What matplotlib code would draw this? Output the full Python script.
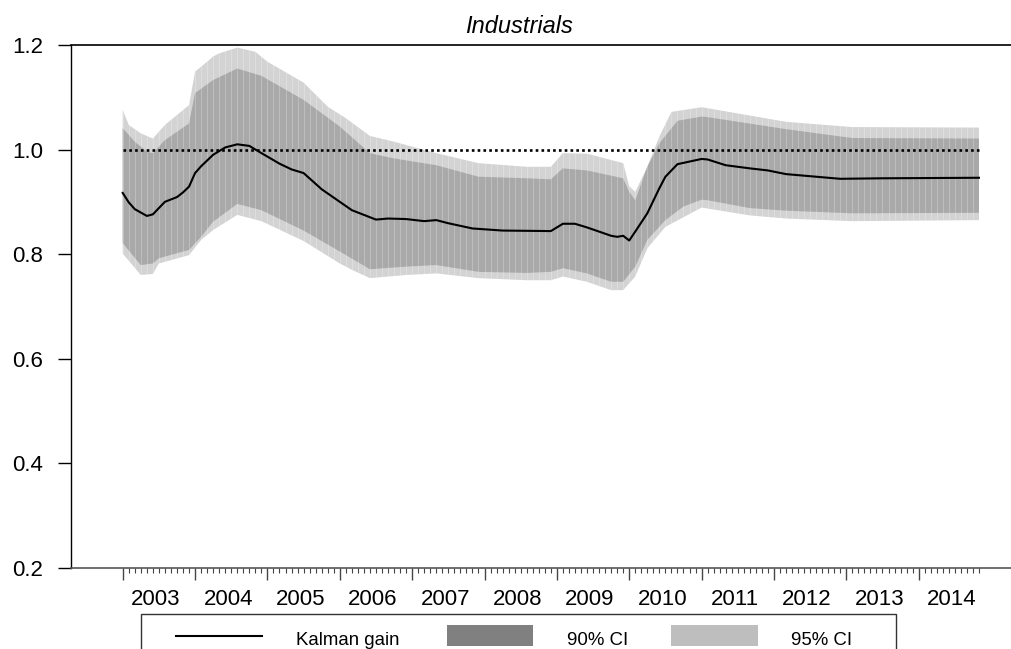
import numpy as np
import matplotlib
matplotlib.use("Agg")
import matplotlib.pyplot as plt
from matplotlib.patches import Rectangle
from matplotlib.lines import Line2D

plt.rcParams["font.family"] = ["Liberation Sans", "DejaVu Sans"]

# Month index 0 = Jan 2003, 142 = Nov 2014
n_months = 143
years = list(range(2003, 2015))

gain_month = [0, 1, 2, 4, 5, 6, 7, 9, 10, 11, 12, 13, 15, 17, 19, 21, 22, 26, 28, 30,
              33, 38, 42, 44, 47, 50, 52, 54, 58, 63, 71, 73, 75, 77, 81, 82, 83, 84,
              85, 87, 89, 90, 92, 96, 97, 100, 104, 107, 110, 115, 119, 126, 142]
gain_value = [0.917, 0.899, 0.886, 0.873, 0.876, 0.888, 0.900, 0.909, 0.918, 0.929,
              0.955, 0.968, 0.990, 1.004, 1.010, 1.007, 1.000, 0.973, 0.962, 0.955,
              0.924, 0.884, 0.866, 0.868, 0.867, 0.863, 0.865, 0.859, 0.849, 0.845,
              0.844, 0.858, 0.858, 0.851, 0.835, 0.833, 0.835, 0.826, 0.843, 0.878,
              0.926, 0.948, 0.972, 0.982, 0.981, 0.970, 0.964, 0.960, 0.953, 0.948,
              0.944, 0.945, 0.946]

up90_month = [0, 2, 4, 5, 7, 11, 12, 15, 19, 23, 30, 36, 41, 45, 52, 59, 67, 71, 73,
              77, 83, 84, 85, 87, 89, 92, 96, 97, 110, 121, 142]
up90_value = [1.041, 1.015, 0.996, 0.993, 1.018, 1.050, 1.108, 1.133, 1.155, 1.141,
              1.095, 1.044, 0.993, 0.983, 0.970, 0.948, 0.945, 0.943, 0.964, 0.960,
              0.945, 0.919, 0.903, 0.967, 1.012, 1.055, 1.063, 1.062, 1.039, 1.022, 1.021]

lo90_month = [0, 3, 5, 6, 11, 13, 15, 19, 23, 30, 36, 41, 47, 52, 59, 67, 71, 73, 77,
              81, 83, 85, 87, 90, 93, 96, 97, 104, 110, 121, 142]
lo90_value = [0.821, 0.779, 0.782, 0.792, 0.808, 0.833, 0.862, 0.896, 0.884, 0.845,
              0.805, 0.771, 0.776, 0.779, 0.766, 0.764, 0.766, 0.773, 0.763, 0.747,
              0.747, 0.776, 0.827, 0.865, 0.891, 0.904, 0.903, 0.888, 0.883, 0.878, 0.879]

up95_month = [0, 1, 3, 5, 7, 9, 11, 12, 14, 15, 16, 19, 22, 24, 30, 34, 37, 41, 45,
              52, 59, 67, 71, 73, 77, 83, 84, 85, 87, 89, 91, 96, 110, 121, 142]
up95_value = [1.076, 1.047, 1.031, 1.021, 1.047, 1.066, 1.085, 1.149, 1.168, 1.178,
              1.184, 1.195, 1.187, 1.168, 1.128, 1.082, 1.060, 1.026, 1.015, 0.993,
              0.974, 0.967, 0.967, 0.993, 0.992, 0.974, 0.930, 0.919, 0.967, 1.025,
              1.072, 1.081, 1.053, 1.043, 1.042]

lo95_month = [0, 3, 5, 6, 11, 13, 15, 19, 23, 30, 36, 38, 41, 47, 52, 59, 67, 71, 73,
              77, 81, 83, 85, 87, 90, 96, 104, 110, 121, 142]
lo95_value = [0.801, 0.760, 0.762, 0.782, 0.798, 0.827, 0.846, 0.875, 0.863, 0.825,
              0.782, 0.770, 0.754, 0.760, 0.763, 0.754, 0.750, 0.750, 0.757, 0.747,
              0.731, 0.731, 0.757, 0.811, 0.852, 0.889, 0.874, 0.868, 0.863, 0.865]

W, H = 1012, 649
fig = plt.figure(figsize=(W / 100, H / 100), dpi=100)

# plot region in pixels: left 71, top 45, bottom 567.7, runs off the right edge
ax = fig.add_axes([71 / W, (H - 567.7) / H, 1 - 71 / W, (567.7 - 45) / H])
px_per_month = 6.03
x0 = -(122.7 - 71) / px_per_month
ax.set_xlim(x0, x0 + (W - 71) / px_per_month)
ax.set_ylim(0.2, 1.2)

# confidence bands
band95 = ax.fill(np.r_[up95_month, lo95_month[::-1]], np.r_[up95_value, lo95_value[::-1]],
                 color="#d3d3d3", lw=0, zorder=1)[0]
ax.fill(np.r_[up90_month, lo90_month[::-1]], np.r_[up90_value, lo90_value[::-1]],
        color="#a9a9a9", lw=0, zorder=2)

# faint seams between the monthly polygons
seams = ax.vlines(np.arange(n_months), 0.2, 1.2, color="white", lw=0.7, alpha=0.25, zorder=3)
seams.set_clip_path(band95)

ax.hlines(1.0, 0, n_months - 1, colors="black", linestyles=(0, (1.0, 1.2)), lw=1.9, zorder=4)
ax.plot(gain_month, gain_value, color="black", lw=1.5, zorder=5)

# spines
ax.spines["right"].set_visible(False)
ax.spines["left"].set_linewidth(1.0)
ax.spines["top"].set_linewidth(1.2)
ax.spines["bottom"].set_color("#555555")
ax.spines["bottom"].set_linewidth(1.2)

# y axis
ax.set_yticks([0.2, 0.4, 0.6, 0.8, 1.0, 1.2])
ax.set_yticklabels(["0.2", "0.4", "0.6", "0.8", "1.0", "1.2"])
ax.tick_params(axis="y", direction="out", length=9.4, width=1.0, pad=10.5, labelsize=16)

# x axis: monthly minor ticks, yearly major ticks, year labels mid-year
ax.set_xticks(np.arange(0, n_months, 12))
ax.set_xticks(np.arange(n_months), minor=True)
ax.set_xticklabels([])
ax.tick_params(axis="x", which="major", direction="out", length=8.5, width=1.0, color="#444444")
ax.tick_params(axis="x", which="minor", direction="out", length=3.6, width=0.8, color="#444444")
for k, yr in enumerate(years):
    ax.text(5.5 + 12 * k, -37.3 / 522.7, str(yr), transform=ax.get_xaxis_transform(),
            ha="center", va="baseline", fontsize=16)

fig.text(519 / W, 1 - 33.3 / H, "Industrials", ha="center", va="baseline",
         fontsize=17, style="italic")

# legend box, cut off by the bottom edge as in the original
def fx(p):
    return p / W

def fy(p):
    return 1 - p / H

fig.add_artist(Rectangle((fx(141), fy(665)), fx(895.7) - fx(141), fy(614) - fy(665),
                         transform=fig.transFigure, fill=False, edgecolor="#333333", lw=1.0))
fig.add_artist(Line2D([fx(176), fx(262)], [fy(635.5), fy(635.5)], transform=fig.transFigure,
                      color="black", lw=1.5))
fig.text(fx(348), fy(645), "Kalman gain", ha="center", va="baseline", fontsize=13.4)
fig.add_artist(Rectangle((fx(447), fy(645.7)), fx(533) - fx(447), fy(625) - fy(645.7),
                         transform=fig.transFigure, color="#808080", lw=0))
fig.text(fx(598), fy(645), "90% CI", ha="center", va="baseline", fontsize=13.4)
fig.add_artist(Rectangle((fx(671), fy(645.7)), fx(757.7) - fx(671), fy(625) - fy(645.7),
                         transform=fig.transFigure, color="#bebebe", lw=0))
fig.text(fx(822), fy(645), "95% CI", ha="center", va="baseline", fontsize=13.4)

fig.savefig("out.png", dpi=100)
